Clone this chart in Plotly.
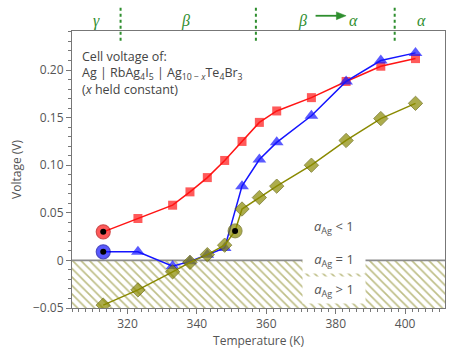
import plotly.graph_objects as go

# ---- data ----
T_red = [313, 323, 333, 338, 343, 348, 353, 358, 363, 373, 383, 393, 403]
V_red = [0.030, 0.044, 0.058, 0.072, 0.087, 0.105, 0.125, 0.145, 0.157, 0.171, 0.188, 0.204, 0.212]

T_blue = [313, 323, 333, 338, 343, 348, 353, 358, 363, 373, 383, 393, 403]
V_blue = [0.009, 0.009, -0.006, -0.001, 0.006, 0.013, 0.078, 0.106, 0.124, 0.152, 0.188, 0.210, 0.218]

T_olive = [313, 323, 333, 338, 343, 348, 351, 353, 358, 363, 373, 383, 393, 403]
V_olive = [-0.047, -0.031, -0.012, -0.002, 0.006, 0.016, 0.031, 0.054, 0.066, 0.078, 0.100, 0.126, 0.149, 0.165]
OLIVE_CIRCLE_INDEX = 6

phase_bounds = [318, 357, 397]
phase_labels = ["\u03b3", "\u03b2", "\u03b2", "\u03b1", "\u03b1"]
phase_label_x = [311, 336.6, 370.4, 385.0, 404.6]
x_ticks = [320, 340, 360, 380, 400]
y_ticks = [-0.05, 0, 0.05, 0.10, 0.15, 0.20]
y_ticktext = ["\u22120.05", "0", "0.05", "0.10", "0.15", "0.20"]

X_RANGE = [304, 411.5]
Y_RANGE = [-0.05, 0.241]

RED = "#ff1414"
BLUE = "#1414ff"
OLIVE = "#8a8a00"
GREEN = "#2e8e2e"
GRAY = "#555555"
FONT = "Open Sans"

fig = go.Figure()

# hatched region a_Ag > 1
fig.add_trace(go.Scatter(
    x=[X_RANGE[0], X_RANGE[1], X_RANGE[1], X_RANGE[0], X_RANGE[0]],
    y=[0, 0, Y_RANGE[0], Y_RANGE[0], 0],
    mode="none", fill="toself", fillcolor="rgba(0,0,0,0)",
    fillpattern=dict(shape="\\", fgcolor="#7e7e10", bgcolor="white", size=6, solidity=0.28),
    hoverinfo="skip", showlegend=False))

# zero line
fig.add_trace(go.Scatter(x=X_RANGE, y=[0, 0], mode="lines",
                         line=dict(color="#8c8c8c", width=1.6),
                         hoverinfo="skip", showlegend=False))

# red series
fig.add_trace(go.Scatter(
    x=T_red, y=V_red, mode="lines+markers",
    line=dict(color=RED, width=1.5),
    marker=dict(symbol=["circle"] + ["square"] * (len(T_red) - 1),
                size=[14] + [9] * (len(T_red) - 1),
                color=RED, line=dict(color="#c00000", width=[1.2] + [0] * (len(T_red) - 1))),
    showlegend=False))

# blue series
fig.add_trace(go.Scatter(
    x=T_blue, y=V_blue, mode="lines+markers",
    line=dict(color=BLUE, width=1.5),
    marker=dict(symbol=["circle"] + ["triangle-up"] * (len(T_blue) - 1),
                size=[14] + [12] * (len(T_blue) - 1),
                color=BLUE, line=dict(color="#0000b0", width=[1.2] + [0] * (len(T_blue) - 1))),
    showlegend=False))

# olive series
osym = ["diamond"] * len(T_olive)
osym[OLIVE_CIRCLE_INDEX] = "circle"
osize = [11] * len(T_olive)
osize[OLIVE_CIRCLE_INDEX] = 14
fig.add_trace(go.Scatter(
    x=T_olive, y=V_olive, mode="lines+markers",
    line=dict(color=OLIVE, width=1.5),
    marker=dict(symbol=osym, size=osize, color=OLIVE, line=dict(color="#5f5f00", width=1)),
    showlegend=False))

# black centre dots
fig.add_trace(go.Scatter(
    x=[T_red[0], T_blue[0], T_olive[OLIVE_CIRCLE_INDEX]],
    y=[V_red[0], V_blue[0], V_olive[OLIVE_CIRCLE_INDEX]],
    mode="markers", marker=dict(symbol="circle", size=6, color="black"),
    hoverinfo="skip", showlegend=False))

# phase boundary lines
for xb in phase_bounds:
    fig.add_shape(type="line", xref="x", yref="paper", x0=xb, x1=xb, y0=0.965, y1=1.095,
                  line=dict(color=GREEN, width=2, dash="dot"))

# beta -> alpha arrow (shaft + head)
AY = 1.055
fig.add_shape(type="line", xref="x", yref="paper", x0=374.2, x1=381.0, y0=AY, y1=AY,
              line=dict(color=GREEN, width=1.8))
fig.add_shape(type="path", xref="x", yref="paper",
              path=f"M 380.2,{AY + 0.014} L 383.0,{AY} L 380.2,{AY - 0.014} Z",
              fillcolor=GREEN, line=dict(color=GREEN, width=0.5))

ann = []
for txt, xv in zip(phase_labels, phase_label_x):
    ann.append(dict(x=xv, y=1.075, xref="x", yref="paper", text=f"<i>{txt}</i>", showarrow=False,
                    font=dict(family="Liberation Serif", size=16, color=GREEN)))

# description text
ann.append(dict(x=0.022, y=0.945, xref="paper", yref="paper", xanchor="left", yanchor="top",
                align="left", showarrow=False,
                text="Cell voltage of:<br>Ag | RbAg<sub>4</sub>I<sub>5</sub> | Ag<sub>10 \u2212 <i>x</i></sub>Te<sub>4</sub>Br<sub>3</sub><br>(<i>x</i> held constant)",
                font=dict(family=FONT, size=12.5, color="#444444")))

# activity labels
for txt, yv, bg in [("<i>a</i><sub>Ag</sub> < 1", 0.035, None),
                    ("<i>a</i><sub>Ag</sub> = 1", 0.0, "white"),
                    ("<i>a</i><sub>Ag</sub> > 1", -0.031, "white")]:
    a = dict(x=379.5, y=yv, xref="x", yref="y", text=txt, showarrow=False,
             font=dict(family=FONT, size=13, color=GRAY))
    if bg:
        a.update(bgcolor=bg, borderpad=3, width=56)
    ann.append(a)

fig.update_layout(
    width=450, height=352,
    margin=dict(l=72, r=5, t=31, b=44),
    plot_bgcolor="white", paper_bgcolor="white",
    font=dict(family=FONT, size=12, color=GRAY),
    annotations=ann,
    xaxis=dict(range=X_RANGE, tickvals=x_ticks, ticks="outside", ticklen=5, tickcolor="#777",
               showline=True, linecolor="#777", linewidth=1, mirror=True, showgrid=False,
               zeroline=False, tickfont=dict(size=12, color=GRAY),
               minor=dict(dtick=2, tick0=320, ticks="outside", ticklen=3, tickcolor="#777"),
               title=dict(text="Temperature (K)", standoff=2, font=dict(size=12, color=GRAY))),
    yaxis=dict(range=Y_RANGE, tickvals=y_ticks, ticktext=y_ticktext, ticks="outside", ticklen=5,
               tickcolor="#777", showline=True, linecolor="#777", linewidth=1, mirror=True,
               showgrid=False, zeroline=False, tickfont=dict(size=12, color=GRAY),
               minor=dict(dtick=0.01, tick0=0, ticks="outside", ticklen=3, tickcolor="#777"),
               title=dict(text="Voltage (V)", standoff=8, font=dict(size=12, color=GRAY))),
)

fig.write_html("out.html")
